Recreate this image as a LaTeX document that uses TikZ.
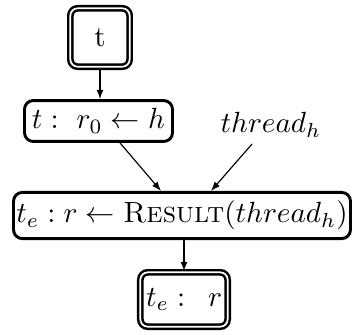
\documentclass[tikz,border=0pt]{standalone}
\usetikzlibrary{arrows.meta}
\begin{document}
\begin{tikzpicture}[x=0.3425pt,y=-0.3425pt,
  box/.style={draw,line width=1pt,rounded corners=3pt,inner sep=0pt},
  dbox/.style={draw,line width=0.85pt,double,double distance=0.6pt,rounded corners=2.5pt,inner sep=0pt},
  arr/.style={-{Latex[length=3.2pt,width=2.4pt]},line width=0.4pt}]
\useasboundingbox (0,0) rectangle (353,334);
\node[dbox,minimum width=20.3pt,minimum height=20pt] (top) at (100,37.5) {t};
\node[box,minimum width=50.7pt,minimum height=14pt] (r0) at (98.5,121) {$t:\ r_0\leftarrow h$};
\node (thr) at (271,125) {$thread_h$};
\node[box,minimum width=115.4pt,minimum height=15.8pt] (res) at (182,215.5) {$t_e: r\leftarrow \textsc{Result}(thread_h)$};
\node[dbox,minimum width=29.9pt,minimum height=18.6pt] (bot) at (184,299.5) {$t_e:\ \,r$};
\draw[arr] (top.south) -- (top.south |- r0.north);
\draw[arr] ([shift={(21.5,0)}]r0.south) -- ([shift={(-21,0)}]res.north);
\draw[arr] ([shift={(-19,19)}]thr.center) -- ([shift={(29,0)}]res.north);
\draw[arr] (res.south -| bot.north) -- (bot.north);
\end{tikzpicture}
\end{document}
